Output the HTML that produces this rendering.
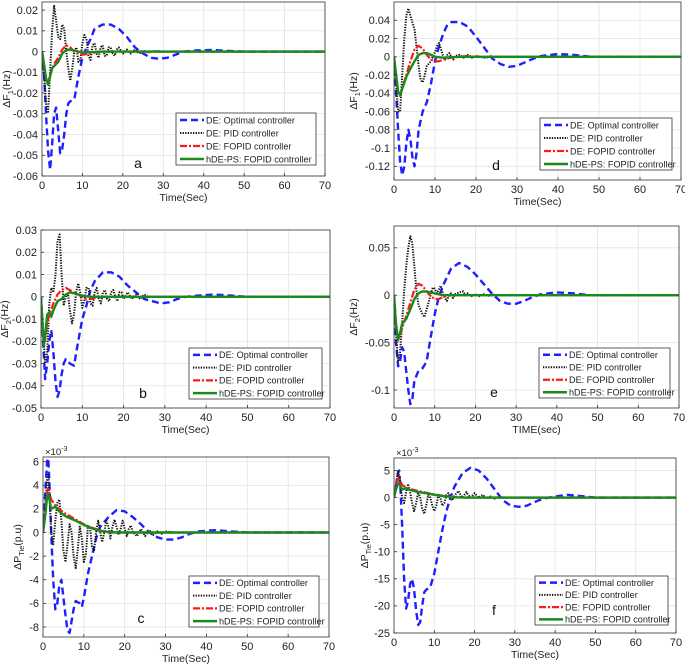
<!DOCTYPE html>
<html><head><meta charset="utf-8"><style>
html,body{margin:0;padding:0;background:#fff;}
svg{display:block;font-family:"Liberation Sans",sans-serif;}
</style></head><body>
<svg id="fig" width="685" height="665" viewBox="0 0 685 665" xmlns="http://www.w3.org/2000/svg"></svg>
<script>
// ---------- DATA ----------
const aOptT=[0,0.5,1,1.5,2,2.5,3,3.5,4,4.5,5,5.5,6,6.5,7,8,9,10,11,12,13,15,17,19,21,23,25,27,29,31,33,35,38,42,46,50,70];
const aOptY=[0,-0.01,-0.03,-0.048,-0.057,-0.045,-0.03,-0.027,-0.038,-0.049,-0.047,-0.04,-0.03,-0.025,-0.024,-0.023,-0.012,-0.003,0.002,0.006,0.011,0.013,0.013,0.011,0.007,0.002,-0.001,-0.003,-0.0035,-0.003,-0.0015,0,0.0005,0.0008,0.0003,0,0];
const aPidT=[0,0.5,1,1.5,2,2.5,3,3.5,4,4.5,5,5.5,6,6.5,7,7.5,8,8.5,9,9.5,10,10.5,11,11.5,12,12.5,13,13.5,14,14.5,15,15.5,16,16.5,17,17.5,18,18.5,19,20,21,22,23,24,25,26,28,30,70];
const aPidY=[0,-0.01,-0.025,-0.029,-0.01,0.01,0.022,0.015,0.007,0.006,0.013,0.011,0,-0.008,-0.014,-0.008,0,0.002,-0.005,-0.004,0.004,0.008,0.006,-0.002,-0.004,0.003,0.004,-0.001,-0.003,0.002,0.003,-0.002,-0.002,0.002,0.002,-0.001,-0.002,0.001,0.002,-0.001,0.001,-0.001,0.001,-0.001,0.0005,-0.0005,0.0003,0,0];
const aFopT=[0,0.5,1,1.5,2,3,4,5,6,7,8,10,12,14,20,70];
const aFopY=[0,-0.006,-0.013,-0.015,-0.011,-0.006,-0.003,0.001,0.003,0.002,0,-0.0015,-0.001,0,0,0];
const aHdeT=[0,0.5,1,1.5,2,2.5,3,4,5,6,7,8,10,12,15,70];
const aHdeY=[0,-0.006,-0.013,-0.016,-0.012,-0.008,-0.007,-0.005,-0.001,0.0008,0.001,0.0005,-0.0005,-0.0003,0,0];
const dOptT=[0,0.5,1,1.5,2,2.5,3,3.5,4,4.5,5,5.5,6,7,8,9,10,11,12,13,14,16,18,20,22,24,26,28,30,32,34,36,40,44,48,70];
const dOptY=[0,-0.04,-0.08,-0.115,-0.13,-0.12,-0.095,-0.08,-0.09,-0.11,-0.12,-0.105,-0.08,-0.06,-0.05,-0.03,-0.005,0.012,0.025,0.035,0.038,0.038,0.033,0.022,0.01,-0.002,-0.008,-0.011,-0.01,-0.006,-0.002,0.001,0.003,0.002,0,0];
const dPidT=[0,0.5,1,1.5,2,2.5,3,3.5,4,5,5.5,6,6.5,7,7.5,8,9,10,10.5,11,11.5,12,12.5,13,13.5,14,14.5,15,16,17,18,19,20,22,24,70];
const dPidY=[0,-0.03,-0.06,-0.06,-0.02,0.02,0.045,0.053,0.045,0.03,0.01,-0.01,-0.025,-0.028,-0.02,-0.01,-0.005,0.005,0.012,0.015,0.008,0,-0.003,0.002,0.004,0,-0.003,0.001,0.002,-0.001,0.002,-0.001,0.001,-0.001,0,0];
const dFopT=[0,0.5,1,1.5,2,3,4,5,6,7,8,9,10,11,12,14,16,18,20,70];
const dFopY=[0,-0.02,-0.038,-0.043,-0.035,-0.02,-0.005,0.008,0.012,0.009,0.002,-0.003,-0.005,-0.005,-0.003,-0.001,0,0.001,0,0];
const dHdeT=[0,0.5,1,1.5,2,3,4,5,6,7,8,9,10,12,14,16,70];
const dHdeY=[0,-0.02,-0.038,-0.042,-0.035,-0.022,-0.013,-0.005,0.002,0.004,0.004,0.002,0,-0.001,-0.0005,0,0];
const bOptT=[0,0.5,1,1.5,2,2.5,3,3.5,4,4.5,5,5.5,6,7,8,9,10,11,12,13,15,17,19,21,23,25,27,29,31,33,35,38,42,46,50,70];
const bOptY=[0,-0.02,-0.037,-0.03,-0.02,-0.015,-0.025,-0.038,-0.045,-0.042,-0.035,-0.03,-0.028,-0.03,-0.031,-0.02,-0.01,-0.004,0.003,0.007,0.011,0.011,0.009,0.005,0.002,-0.001,-0.002,-0.003,-0.0025,-0.001,0,0.0005,0.001,0.0005,0,0];
const bPidT=[0,0.5,1,1.5,2,2.5,3,3.5,4,4.5,5,5.5,6,6.5,7,7.5,8,8.5,9,9.5,10,10.5,11,11.5,12,12.5,13,13.5,14,14.5,15,15.5,16,16.5,17,17.5,18,18.5,19,19.5,20,21,22,23,24,25,26,70];
const bPidY=[0,-0.015,-0.03,-0.025,-0.003,0.004,0.002,0.01,0.025,0.028,0.01,-0.004,0,0.002,-0.006,-0.012,-0.008,0.002,0.006,0.002,-0.005,-0.002,0.004,0.004,-0.003,-0.004,0.002,0.004,-0.001,-0.003,0.002,0.003,-0.001,-0.002,0.002,0.003,0,-0.002,0.002,0.002,-0.001,0.002,-0.001,0.001,-0.001,0.001,0,0];
const bFopT=[0,0.5,1,1.5,2,3,4,5,6,7,8,9,10,11,12,14,70];
const bFopY=[0,-0.015,-0.02,-0.012,-0.008,-0.003,0.001,0.003,0.004,0.003,0.002,0.001,0,-0.001,-0.001,0,0];
const bHdeT=[0,0.3,0.7,1,1.5,2,2.5,3,4,5,6,7,8,10,12,70];
const bHdeY=[0,-0.01,-0.022,-0.018,-0.008,-0.007,-0.009,-0.006,-0.002,-0.001,0.001,0.002,0.0015,0.0005,0,0];
const eOptT=[0,0.5,1,1.5,2,2.5,3,3.5,4,4.5,5,6,7,8,9,10,11,12,14,16,18,20,22,24,26,28,30,32,34,36,40,44,48,70];
const eOptY=[0,-0.05,-0.075,-0.07,-0.055,-0.06,-0.08,-0.1,-0.115,-0.11,-0.09,-0.08,-0.077,-0.07,-0.045,-0.02,-0.002,0.01,0.028,0.034,0.03,0.022,0.012,0.002,-0.006,-0.009,-0.009,-0.006,-0.002,0.001,0.003,0.002,0,0];
const ePidT=[0,0.5,1,1.5,2,2.5,3,3.5,4,4.5,5,5.5,6,7,7.5,8,9,9.5,10,10.5,11,11.5,12,12.5,13,13.5,14,14.5,15,16,17,17.5,18,19,20,21,22,23,24,25,70];
const ePidY=[0,-0.04,-0.07,-0.06,-0.03,0.005,0.03,0.05,0.062,0.055,0.03,0.005,-0.01,-0.02,-0.023,-0.015,0,0.008,0.007,0.002,0.006,0.01,0.002,-0.003,-0.006,0,0.002,-0.003,0.001,0.003,0.004,0,0.002,-0.001,0.001,-0.001,0.001,-0.001,0.001,0,0];
const eFopT=[0,0.5,1,1.5,2,3,4,5,6,7,8,9,10,11,12,14,70];
const eFopY=[0,-0.03,-0.048,-0.042,-0.035,-0.022,-0.008,0.006,0.012,0.01,0.004,-0.001,-0.004,-0.004,-0.002,0,0];
const eHdeT=[0,0.5,1,1.5,2,3,4,5,6,7,8,10,12,70];
const eHdeY=[0,-0.03,-0.047,-0.04,-0.03,-0.025,-0.015,-0.004,0.002,0.004,0.004,0.002,0,0];
const cOptT=[0,0.5,1,1.3,1.6,2,2.5,3,3.5,4,4.5,5,5.5,6,6.5,7,7.5,8,9,9.5,10,11,12,13,14,16,18,20,22,24,26,28,30,32,34,36,38,42,46,50,70];
const cOptY=[0,3,6,6.3,4,0,-4,-6.5,-6,-4.5,-4,-5.5,-7,-8.3,-8.5,-7.5,-6.5,-5.8,-6,-6.3,-5.5,-3.5,-2,-0.5,0.5,1.3,1.9,1.8,1.3,0.7,0,-0.4,-0.6,-0.6,-0.4,-0.1,0.1,0.2,0.1,0,0];
const cPidT=[0,0.5,1,1.3,1.6,2,2.5,3,3.5,4,4.5,5,5.5,6,6.5,7,7.5,8,8.5,9,9.5,10,10.5,11,11.5,12,12.5,13,13.5,14,14.5,15,15.5,16,16.5,17,17.5,18,18.5,19,19.5,20,20.5,21,21.5,22,23,24,25,26,27,28,29,30,32,70];
const cPidY=[0,2,4.5,5,3,0,-1,1,2.5,2.8,1,-1.5,-2.5,-1,0.7,0,-2,-3,-1.5,0.5,-0.5,-2.5,-1.8,0.5,0.5,-1.2,-1.5,0,1,0,-0.8,0,1,0.5,-0.5,0.5,1.1,0.5,-0.2,0.3,1,0.3,-0.3,0.3,0.6,0,-0.3,0.3,-0.3,0.2,-0.2,0.1,-0.1,0.1,0,0];
const cFopT=[0,0.5,1,1.3,2,3,4,5,6,8,10,12,14,16,18,70];
const cFopY=[0,1.5,3.4,3.7,2.8,2.3,2,1.7,1.5,1.1,0.7,0.4,0.2,0.05,0,0];
const cHdeT=[0,0.5,1,1.3,2,3,4,5,6,8,10,12,14,16,18,70];
const cHdeY=[0,1.3,3,3.3,2,2.2,1.8,1.5,1.3,1.0,0.65,0.35,0.15,0.05,0,0];
const fOptT=[0,0.5,1,1.3,1.6,2,2.5,3,3.5,4,4.5,5,5.5,6,6.5,7,7.5,8,9,10,11,12,13,14,15,17,19,21,23,25,27,29,31,33,35,37,40,43,46,50,70];
const fOptY=[0,2,4.5,5,2,-5,-15,-20.5,-19,-16,-15,-17,-21,-23.5,-23,-20,-17.5,-17,-16.5,-14,-10,-6,-2.5,0,2,4.5,5.5,5,3.5,1.5,-0.5,-1.5,-1.7,-1.5,-0.8,-0.2,0.2,0.5,0.3,0,0];
const fPidT=[0,0.5,1,1.5,2,2.5,3,3.5,4,4.5,5,5.5,6,6.5,7,7.5,8,8.5,9,9.5,10,10.5,11,11.5,12,12.5,13,13.5,14,14.5,15,16,16.5,17,18,18.5,19,20,21,22,23,24,25,26,28,70];
const fPidY=[0,2.5,5,3,0,-1,1,2.5,1,-1,-2.5,-1,1,0,-2,-3,-1.5,0.5,0,-1.5,-2.5,-1.5,0.5,0,-1.5,-1,0.5,0.8,0,-0.5,0.3,1.2,0.5,0,1,0.4,0,0.8,0,0.5,-0.2,0.2,-0.2,0.1,0,0];
const fFopT=[0,0.5,1,1.3,2,3,4,5,6,8,10,12,14,16,18,70];
const fFopY=[0,2,3.5,3.7,2.3,1.9,1.6,1.4,1.2,0.9,0.6,0.35,0.15,0.05,0,0];
const fHdeT=[0,0.5,1,1.3,2,3,4,5,6,8,10,12,14,16,18,70];
const fHdeY=[0,1.5,2.5,2.6,1.5,1.7,1.4,1.2,1.0,0.8,0.5,0.3,0.12,0.03,0,0];
const xTicks=[0,10,20,30,40,50,60,70];
const aTicks=[0.02,0.01,0,-0.01,-0.02,-0.03,-0.04,-0.05,-0.06];
const dTicks=[0.04,0.02,0,-0.02,-0.04,-0.06,-0.08,-0.1,-0.12];
const bTicks=[0.03,0.02,0.01,0,-0.01,-0.02,-0.03,-0.04,-0.05];
const eTicks=[0.05,0,-0.05,-0.1];
const cTicks=[6,4,2,0,-2,-4,-6,-8];
const fTicks=[5,0,-5,-10,-15,-20,-25];
const legendLabels=["DE: Optimal controller","DE: PID controller","DE: FOPID controller","hDE-PS: FOPID controller"];

// ---------- LAYOUT ----------
const panels=[
 {id:"a",x0:42,x1:325,y0:2,y1:176,ymin:-0.06,ymax:0.0239,ticks:aTicks,ylab:"F",sub:"1",unit:"(Hz)",xl:"Time(Sec)",ylx:10,
  leg:[176,113,140,52],letter:[138,168],series:[[aOptT,aOptY],[aPidT,aPidY],[aFopT,aFopY],[aHdeT,aHdeY]]},
 {id:"d",x0:394,x1:681,y0:2,y1:180,ymin:-0.135,ymax:0.06,ticks:dTicks,ylab:"F",sub:"1",unit:"(Hz)",xl:"Time(Sec)",ylx:357,
  leg:[540,118,132,52],letter:[496,170],series:[[dOptT,dOptY],[dPidT,dPidY],[dFopT,dFopY],[dHdeT,dHdeY]]},
 {id:"b",x0:41,x1:330,y0:230,y1:408,ymin:-0.05,ymax:0.03,ticks:bTicks,ylab:"F",sub:"2",unit:"(Hz)",xl:"Time(Sec)",ylx:8,
  leg:[189,348,133,51],letter:[143,398],series:[[bOptT,bOptY],[bPidT,bPidY],[bFopT,bFopY],[bHdeT,bHdeY]]},
 {id:"e",x0:394,x1:679,y0:226,y1:408,ymin:-0.119,ymax:0.073,ticks:eTicks,ylab:"F",sub:"2",unit:"(Hz)",xl:"TIME(sec)",ylx:357,
  leg:[539,348,131,50],letter:[494,397],series:[[eOptT,eOptY],[ePidT,ePidY],[eFopT,eFopY],[eHdeT,eHdeY]]},
 {id:"c",x0:43,x1:329,y0:457,y1:637,ymin:-8.85,ymax:6.4,ticks:cTicks,ylab:"P",sub:"Tie",unit:"(p.u)",xl:"Time(Sec)",ylx:21,exp:true,
  leg:[189,576,130,51],letter:[141,623],series:[[cOptT,cOptY],[cPidT,cPidY],[cFopT,cFopY],[cHdeT,cHdeY]]},
 {id:"f",x0:394,x1:676,y0:458,y1:633,ymin:-25,ymax:7.3,ticks:fTicks,ylab:"P",sub:"Tie",unit:"(p.u)",xl:"Time(Sec)",ylx:368,exp:true,
  leg:[535,576,133,49],letter:[494,615],series:[[fOptT,fOptY],[fPidT,fPidY],[fFopT,fFopY],[fHdeT,fHdeY]]}
];
const styles=[
 {c:"#1f1fff",w:2.4,d:"7,4"},
 {c:"#111",w:2,d:"1.3,1.3"},
 {c:"#ff1a1a",w:2.2,d:"7,2,2,2"},
 {c:"#1a8a1a",w:2.4,d:""}
];
const NS="http://www.w3.org/2000/svg";
const svg=document.getElementById("fig");
function mk(tag,attrs,parent){const e=document.createElementNS(NS,tag);for(const k in attrs)e.setAttribute(k,attrs[k]);(parent||svg).appendChild(e);return e;}
function fmt(v){return String(Math.round(v*1000)/1000);}

panels.forEach(p=>{
  const g=mk("g",{});
  
  
  const sx=t=>p.x0+(t-0)/(70-0)*(p.x1-p.x0);
  const sy=v=>p.y1-(v-p.ymin)/(p.ymax-p.ymin)*(p.y1-p.y0);
  xTicks.forEach(t=>{const l=mk("line",{x1:sx(t),x2:sx(t),y1:p.y0,y2:p.y1,stroke:"#e3e3e3","stroke-width":0.8},g);
    });
  p.ticks.forEach(v=>{const l=mk("line",{x1:p.x0,x2:p.x1,y1:sy(v),y2:sy(v),stroke:"#e3e3e3","stroke-width":0.8},g);
    });
  const cid="clip"+p.id;
  const cp=mk("clipPath",{id:cid},g);mk("rect",{x:p.x0,y:p.y0,width:p.x1-p.x0,height:p.y1-p.y0},cp);
  p.series.forEach((s,i)=>{
    const pts=s[0].map((t,j)=>sx(t).toFixed(1)+","+sy(s[1][j]).toFixed(1)).join(" ");
    const a={points:pts,fill:"none",stroke:styles[i].c,"stroke-width":styles[i].w,"clip-path":"url(#"+cid+")","stroke-linejoin":"round"};
    if(styles[i].d)a["stroke-dasharray"]=styles[i].d;
    const pl=mk("polyline",a,g);
    
    
  });
  const box=mk("rect",{x:p.x0,y:p.y0,width:p.x1-p.x0,height:p.y1-p.y0,fill:"none",stroke:"#333","stroke-width":0.8},g);
  
  xTicks.forEach(t=>{
    mk("line",{x1:sx(t),x2:sx(t),y1:p.y1,y2:p.y1-3,stroke:"#333","stroke-width":0.8},g);
    const tx=mk("text",{x:sx(t),y:p.y1+13,"font-size":11,"text-anchor":"middle",fill:"#222"},g);
    tx.textContent=t;
  });
  p.ticks.forEach(v=>{
    mk("line",{x1:p.x0,x2:p.x0+3,y1:sy(v),y2:sy(v),stroke:"#333","stroke-width":0.8},g);
    const tx=mk("text",{x:p.x0-4,y:sy(v)+3.8,"font-size":11,"text-anchor":"end",fill:"#222"},g);
    tx.textContent=fmt(v);
  });
  const xt=mk("text",{x:(p.x0+p.x1)/2,y:p.y1+25,"font-size":10.5,"text-anchor":"middle",fill:"#222"},g);
  xt.textContent=p.xl;
  const cy=(p.y0+p.y1)/2;
  const yt=mk("text",{x:p.ylx,y:cy,"font-size":10.5,"text-anchor":"middle",fill:"#222",transform:"rotate(-90 "+p.ylx+" "+cy+")"},g);
  
  const t1=mk("tspan",{},yt);t1.textContent="\u0394"+p.ylab;
  const t2=mk("tspan",{"font-size":7.5,dy:3},yt);t2.textContent=p.sub;
  const t3=mk("tspan",{dy:-3},yt);t3.textContent=p.unit;
  if(p.exp){
    const ex=mk("text",{x:p.x0+2,y:p.y0-2,"font-size":9.5,fill:"#222"},g);
    
    const e1=mk("tspan",{},ex);e1.textContent="\u00d710";
    const e2=mk("tspan",{"font-size":7,dy:-4},ex);e2.textContent="-3";
  }
  const lt=mk("text",{x:p.letter[0],y:p.letter[1],"font-size":14,"text-anchor":"middle",fill:"#111"},g);
  lt.textContent=p.id;
  const [lx,ly,lw,lh]=p.leg;
  const lg=mk("g",{},g);
  
  mk("rect",{x:lx,y:ly,width:lw,height:lh,fill:"#fff",stroke:"#333","stroke-width":0.8},lg);
  const rh=lh/4;
  legendLabels.forEach((lab,i)=>{
    const yy=ly+rh*(i+0.5)+0.5;
    const la={x1:lx+4,x2:lx+28,y1:yy,y2:yy,stroke:styles[i].c,"stroke-width":styles[i].w};
    if(styles[i].d)la["stroke-dasharray"]=styles[i].d;
    mk("line",la,lg);
    const tx=mk("text",{x:lx+30,y:yy+3.3,"font-size":9.1,fill:"#222"},lg);
    tx.textContent=lab;
  });
});
</script>
</body></html>
